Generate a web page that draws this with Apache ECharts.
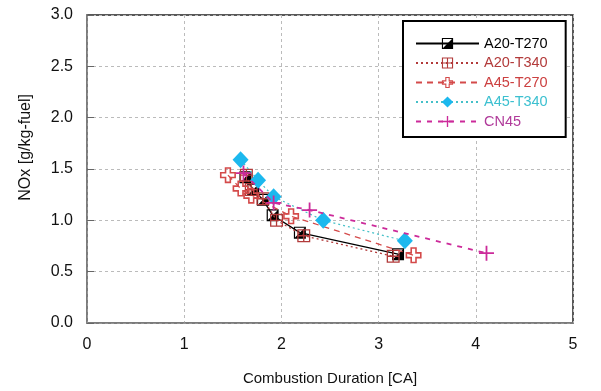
<!DOCTYPE html>
<html><head><meta charset="utf-8">
<script src="https://cdn.jsdelivr.net/npm/echarts@6/dist/echarts.min.js"></script>
<style>html,body{margin:0;padding:0;background:#fff}#c{width:601px;height:391px}</style>
</head><body><div id="c"></div>
<script>
var seriesNames = ['A20-T270', 'A20-T340', 'A45-T270', 'A45-T340', 'CN45'];
var a20t270 = [[1.63, 1.42], [1.71, 1.30], [1.81, 1.20], [1.91, 1.05], [2.19, 0.88], [3.20, 0.67]];
var a20t340 = [[1.64, 1.44], [1.69, 1.30], [1.81, 1.21], [1.95, 1.00], [2.23, 0.85], [3.15, 0.65]];
var a45t270 = [[1.45, 1.44], [1.58, 1.31], [1.69, 1.24], [2.10, 1.04], [3.36, 0.66]];
var a45t340 = [[1.58, 1.59], [1.76, 1.39], [1.92, 1.23], [2.43, 1.00], [3.27, 0.80]];
var cn45 = [[1.61, 1.46], [1.92, 1.17], [2.29, 1.10], [4.11, 0.68]];
var xTicks = [0, 1, 2, 3, 4, 5];
var yTicks = [0, 0.5, 1.0, 1.5, 2.0, 2.5, 3.0];

var FONT = 'Liberation Sans';
var halfSq = 'path://M0,0L10,0L10,10L0,10Z M1,1L1,9L9,1Z';
var gridSq = 'path://M0,0L10,0L10,10L0,10Z M1,1L1,4.5L4.5,4.5L4.5,1Z M5.5,1L5.5,4.5L9,4.5L9,1Z M1,5.5L1,9L4.5,9L4.5,5.5Z M5.5,5.5L5.5,9L9,9L9,5.5Z';
var openCross = 'path://M3,0L7,0L7,3L10,3L10,7L7,7L7,10L3,10L3,7L0,7L0,3L3,3Z M4,1L4,4L1,4L1,6L4,6L4,9L6,9L6,6L9,6L9,4L6,4L6,1Z';
var plus = 'path://M4.4,0L5.6,0L5.6,4.4L10,4.4L10,5.6L5.6,5.6L5.6,10L4.4,10L4.4,5.6L0,5.6L0,4.4L4.4,4.4Z';

var colors = ['#000000', '#b23a3a', '#d44a4a', '#1cb8ee', '#cc2a9a'];
var lineColors = ['#000000', '#b23a3a', '#d44a4a', '#45c0c8', '#cc2a9a'];
var textColors = ['#000000', '#b23a3a', '#cc4040', '#3cc0d0', '#b03a9a'];

var chart = echarts.init(document.getElementById('c'));
chart.setOption({
  animation: false,
  grid: {left: 87, right: 28, top: 15, bottom: 63, show: true, borderColor: '#222', borderWidth: 1.5},
  xAxis: {
    type: 'value', min: xTicks[0], max: xTicks[xTicks.length - 1], interval: 1,
    name: 'Combustion Duration [CA]', nameLocation: 'middle', nameGap: 48,
    nameTextStyle: {fontFamily: FONT, fontSize: 15, color: '#111'},
    axisLine: {lineStyle: {color: '#888', width: 1.5}},
    axisTick: {show: false},
    axisLabel: {fontFamily: FONT, fontSize: 16, color: '#111', margin: 14},
    splitLine: {lineStyle: {type: [3, 3], color: '#bbb'}}
  },
  yAxis: {
    type: 'value', min: yTicks[0], max: yTicks[yTicks.length - 1], interval: 0.5,
    axisLine: {lineStyle: {color: '#888', width: 1.5}},
    axisTick: {show: true, inside: true, length: 7, lineStyle: {color: '#666'}},
    axisLabel: {fontFamily: FONT, fontSize: 16, color: '#111', margin: 14, formatter: function (v) { return v.toFixed(1); }},
    splitLine: {lineStyle: {type: [3, 3], color: '#bbb'}}
  },
  graphic: [{
    type: 'text', left: 18, top: 94, rotation: Math.PI / 2,
    style: {text: 'NOx [g/kg-fuel]', fontFamily: FONT, fontSize: 16, fill: '#111'}
  }],
  legend: {
    orient: 'vertical', left: 403, top: 21,
    itemWidth: 63, itemHeight: 14, itemGap: 4.5,
    padding: [15, 18, 8, 12],
    borderColor: '#000', borderWidth: 2, backgroundColor: '#fff',
    textStyle: {fontFamily: FONT, fontSize: 14.5},
    data: seriesNames.map(function (n, i) { return {name: n, textStyle: {color: textColors[i]}}; })
  },
  series: [
    {name: seriesNames[0], type: 'line', data: a20t270, symbol: halfSq, symbolSize: 12,
     itemStyle: {color: colors[0], borderWidth: 0}, lineStyle: {color: lineColors[0], width: 1.3, type: 'solid'}, z: 3},
    {name: seriesNames[1], type: 'line', data: a20t340, symbol: gridSq, symbolSize: 13,
     itemStyle: {color: colors[1], borderWidth: 0}, lineStyle: {color: lineColors[1], width: 1.3, type: [2, 3]}, z: 4},
    {name: seriesNames[2], type: 'line', data: a45t270, symbol: openCross, symbolSize: 16,
     itemStyle: {color: colors[2], borderWidth: 0}, lineStyle: {color: lineColors[2], width: 1.3, type: [6, 5]}, z: 5},
    {name: seriesNames[3], type: 'line', data: a45t340, symbol: 'diamond', symbolSize: [16, 17],
     itemStyle: {color: colors[3], borderWidth: 0}, lineStyle: {color: lineColors[3], width: 1.2, type: [2, 3]}, z: 6},
    {name: seriesNames[4], type: 'line', data: cn45, symbol: plus, symbolSize: 15,
     itemStyle: {color: colors[4], borderWidth: 0}, lineStyle: {color: lineColors[4], width: 1.8, type: [5, 6]}, z: 7}
  ]
});
</script></body></html>
